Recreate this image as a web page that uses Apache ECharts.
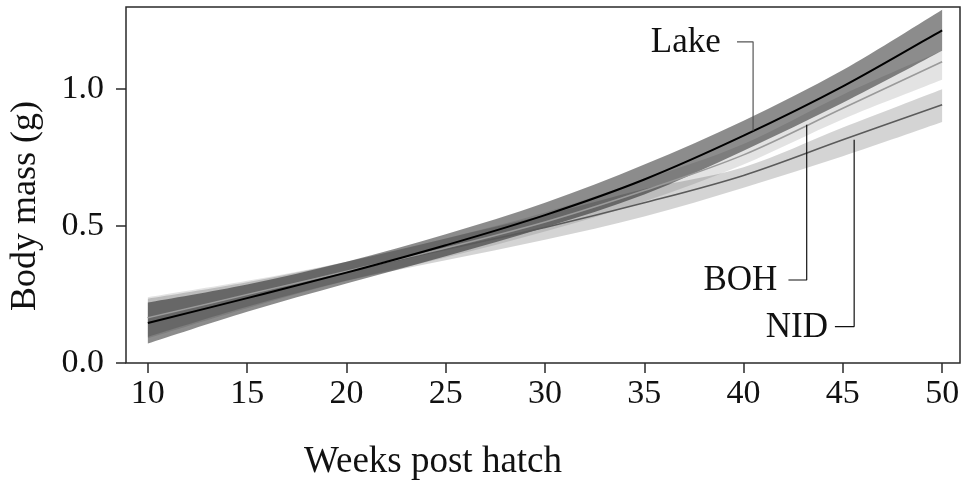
<!DOCTYPE html>
<html>
<head>
<meta charset="utf-8">
<script src="https://cdn.jsdelivr.net/npm/echarts@6/dist/echarts.min.js"></script>
<style>html,body{margin:0;padding:0;background:#fff}#c{width:963px;height:485px}</style>
</head>
<body>
<div id="c"></div>
<script>
// ---- data ----
const weeks = [10, 15, 20, 25, 30, 35, 40, 45, 50];
const lakeMean  = [0.146, 0.237, 0.330, 0.430, 0.540, 0.670, 0.830, 1.010, 1.215];
const lakeLower = [0.071, 0.187, 0.290, 0.390, 0.495, 0.615, 0.775, 0.950, 1.140];
const lakeUpper = [0.221, 0.287, 0.370, 0.470, 0.585, 0.725, 0.885, 1.070, 1.290];
const bohMean   = [0.165, 0.250, 0.335, 0.420, 0.515, 0.630, 0.760, 0.930, 1.100];
const bohLower  = [0.090, 0.200, 0.300, 0.385, 0.480, 0.590, 0.725, 0.890, 1.034];
const bohUpper  = [0.240, 0.300, 0.370, 0.455, 0.550, 0.670, 0.800, 0.980, 1.140];
const nidMean   = [0.165, 0.250, 0.335, 0.415, 0.495, 0.585, 0.685, 0.815, 0.943];
const nidLower  = [0.095, 0.205, 0.300, 0.375, 0.450, 0.535, 0.640, 0.755, 0.880];
const nidUpper  = [0.235, 0.295, 0.370, 0.455, 0.540, 0.635, 0.715, 0.860, 1.000];
const xTicks = [10, 15, 20, 25, 30, 35, 40, 45, 50];
const yTicks = [0, 0.5, 1.0];
// annotations
const labelNames    = ['Lake', 'BOH', 'NID'];
const labelWeek     = [40.48, 43.18, 45.57];   // vertical connector position
const labelAnchorY  = [0.848, 0.870, 0.815];   // where connector meets the curve
const labelElbowY   = [1.173, 0.303, 0.133];   // elbow height
const labelArmWeek  = [39.67, 42.26, 44.60];   // end of horizontal arm
const labelTextWeek = [38.85, 41.70, 44.25];   // right edge of text

const FONT = '"Liberation Serif", "DejaVu Serif", serif';
const pairs = (xs, ys) => xs.map((x, i) => [x, ys[i]]);

// Catmull-Rom spline through pixel points -> SVG path segments
function splinePath(pts, moveFirst) {
  let d = (moveFirst ? 'M' : 'L') + pts[0][0].toFixed(2) + ' ' + pts[0][1].toFixed(2);
  for (let i = 0; i < pts.length - 1; i++) {
    const p0 = pts[Math.max(i - 1, 0)], p1 = pts[i], p2 = pts[i + 1], p3 = pts[Math.min(i + 2, pts.length - 1)];
    const c1 = [p1[0] + (p2[0] - p0[0]) / 6, p1[1] + (p2[1] - p0[1]) / 6];
    const c2 = [p2[0] - (p3[0] - p1[0]) / 6, p2[1] - (p3[1] - p1[1]) / 6];
    d += ' C' + c1[0].toFixed(2) + ' ' + c1[1].toFixed(2) + ' ' + c2[0].toFixed(2) + ' ' + c2[1].toFixed(2) + ' ' + p2[0].toFixed(2) + ' ' + p2[1].toFixed(2);
  }
  return d;
}

function bandSeries(name, lower, upper, color) {
  return {
    name: name, type: 'custom', silent: true, z: 1,
    data: weeks.map((w, i) => [w, lower[i], upper[i]]),
    encode: { x: 0, y: [1, 2] },
    renderItem: function (params, api) {
      if (params.dataIndex !== 0) return null;
      const up = weeks.map((w, i) => api.coord([w, upper[i]]));
      const lo = weeks.map((w, i) => api.coord([w, lower[i]])).reverse();
      const d = splinePath(up, true) + ' ' + splinePath(lo, false) + ' Z';
      return { type: 'path', shape: { pathData: d }, style: { fill: color, stroke: null } };
    }
  };
}
function meanSeries(name, vals, color, width, z) {
  return {
    name: name, type: 'custom', silent: true, z: z,
    data: pairs(weeks, vals),
    encode: { x: 0, y: 1 },
    renderItem: function (params, api) {
      if (params.dataIndex !== 0) return null;
      const pts = weeks.map((w, i) => api.coord([w, vals[i]]));
      return { type: 'path', shape: { pathData: splinePath(pts, true) },
        style: { fill: null, stroke: color, lineWidth: width, lineJoin: 'round' } };
    }
  };
}
const connectors = labelNames.map((n, i) => ({
  name: n + 'Conn', type: 'line', symbol: 'none', silent: true, z: 5,
  data: [[labelWeek[i], labelAnchorY[i]], [labelWeek[i], labelElbowY[i]], [labelArmWeek[i], labelElbowY[i]]],
  lineStyle: { color: i === 0 ? '#555' : '#111', width: 1.2 }
}));

const chart = echarts.init(document.getElementById('c'), null, { renderer: 'canvas' });
const option = {
  animation: false,
  backgroundColor: '#fff',
  grid: { left: 126, right: 3, top: 7, bottom: 122, show: true, borderColor: '#2a2a2a', borderWidth: 1.5, backgroundColor: 'transparent' },
  xAxis: {
    type: 'value', min: 8.9, max: 50.9,
    axisLine: { show: false },
    splitLine: { show: false },
    axisTick: { show: true, length: 10, customValues: xTicks, lineStyle: { color: '#2a2a2a', width: 1.5 } },
    axisLabel: { customValues: xTicks, margin: 14, color: '#111', fontFamily: FONT, fontSize: 34 }
  },
  yAxis: {
    type: 'value', min: 0, max: 1.3,
    axisLine: { show: false },
    splitLine: { show: false },
    axisTick: { show: true, length: 10, customValues: yTicks, lineStyle: { color: '#2a2a2a', width: 1.5 } },
    axisLabel: { customValues: yTicks, margin: 22, color: '#111', fontFamily: FONT, fontSize: 34,
      formatter: v => v.toFixed(1) }
  },
  series: [
    bandSeries('bohBand', bohLower, bohUpper, 'rgba(0,0,0,0.11)'),
    bandSeries('nidBand', nidLower, nidUpper, 'rgba(0,0,0,0.17)'),
    bandSeries('lakeBand', lakeLower, lakeUpper, 'rgba(0,0,0,0.45)'),
    meanSeries('NID', nidMean, '#5a5a5a', 1.6, 3),
    meanSeries('BOH', bohMean, '#9a9a9a', 1.6, 3),
    meanSeries('Lake', lakeMean, '#000', 2, 4),
    ...connectors
  ]
};
chart.setOption(option);

const graphics = [
  { type: 'text', x: 433, y: 462, style: { text: 'Weeks post hatch', font: '37px ' + FONT, fill: '#111', textAlign: 'center', textVerticalAlign: 'middle' } },
  { type: 'text', x: 26, y: 206, rotation: Math.PI / 2, style: { text: 'Body mass (g)', font: '36px ' + FONT, fill: '#111', textAlign: 'center', textVerticalAlign: 'middle' } }
];
labelNames.forEach((n, i) => {
  const p = chart.convertToPixel({ gridIndex: 0 }, [labelTextWeek[i], labelElbowY[i]]);
  graphics.push({ type: 'text', x: p[0], y: p[1] + 1, style: { text: n, font: '35px ' + FONT, fill: '#111', textAlign: 'right', textVerticalAlign: 'middle' } });
});
chart.setOption({ graphic: graphics });
</script>
</body>
</html>
